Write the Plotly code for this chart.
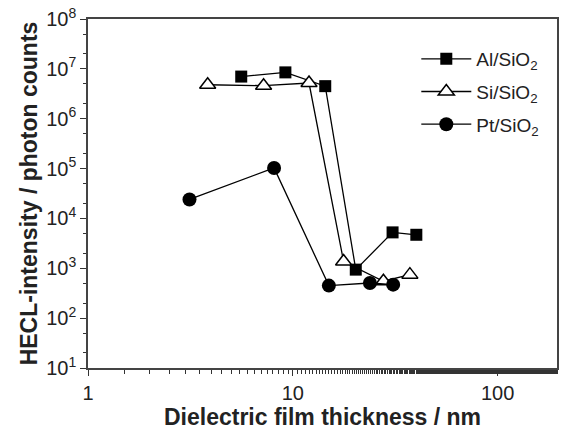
import plotly.graph_objects as go

al_x = [5.6, 9.2, 14.4, 20.3, 30.7, 40.1]
al_y = [7.0e6, 8.5e6, 4.5e6, 940, 5250, 4700]
si_x = [3.84, 7.2, 12.0, 17.7, 27.7, 37.3]
si_y = [4.8e6, 4.6e6, 5.2e6, 1370, 550, 745]
pt_x = [3.13, 8.1, 15.0, 23.8, 30.9]
pt_y = [2.4e4, 1.03e5, 450, 507, 470]

y_tickvals = [1e1, 1e2, 1e3, 1e4, 1e5, 1e6, 1e7, 1e8]
y_ticktext = ["10<sup>%d</sup>" % i for i in range(1, 9)]
x_tickvals = [1, 10, 100]
x_ticktext = ["1", "10", "100"]

FONT = "Liberation Sans, Arial, sans-serif"

fig = go.Figure()
fig.add_trace(go.Scatter(x=al_x, y=al_y, mode="lines+markers", name="Al/SiO<sub>2</sub>",
                         legendgroup="al",
                         line=dict(color="black", width=1.3),
                         marker=dict(symbol="square", size=12, color="black")))
fig.add_trace(go.Scatter(x=si_x, y=si_y, mode="lines+markers", name="Si/SiO<sub>2</sub>",
                         legendgroup="si",
                         line=dict(color="black", width=1.3),
                         marker=dict(symbol="triangle-up", size=14, color="white",
                                     line=dict(color="black", width=1.5))))
fig.add_trace(go.Scatter(x=pt_x, y=pt_y, mode="lines+markers", name="Pt/SiO<sub>2</sub>",
                         legendgroup="pt",
                         line=dict(color="black", width=1.3),
                         marker=dict(symbol="circle", size=14, color="black")))

axis_font = dict(family=FONT, size=20, color="#222")
title_font = dict(family=FONT, size=23, color="#222")
fig.update_layout(
    width=561, height=435,
    margin=dict(l=88, r=2, t=19, b=67),
    paper_bgcolor="white", plot_bgcolor="white",
    font=dict(family=FONT, color="#222"),
    showlegend=True,
    legend=dict(x=0.70, y=0.94, xanchor="left", yanchor="top",
                font=dict(size=19, color="#222"), bgcolor="rgba(0,0,0,0)",
                traceorder="grouped", tracegroupgap=5, itemwidth=50),
    xaxis=dict(type="log", range=[0, 2.29], tickvals=x_tickvals, ticktext=x_ticktext,
               ticks="outside", ticklen=6, tickwidth=1.3, tickcolor="#333",
               showline=True, linecolor="#444", linewidth=1.5, mirror=True,
               showgrid=False, zeroline=False, tickfont=axis_font,
               minor=dict(ticks="outside", ticklen=4, tickcolor="#333", showgrid=False),
               title=dict(text="<b>Dielectric film thickness / nm</b>",
                          font=title_font, standoff=4)),
    yaxis=dict(type="log", range=[1, 8], tickvals=y_tickvals, ticktext=y_ticktext,
               ticks="outside", ticklen=6, tickwidth=1.3, tickcolor="#333",
               showline=True, linecolor="#444", linewidth=1.5, mirror=True,
               showgrid=False, zeroline=False, tickfont=axis_font,
               minor=dict(ticks="outside", ticklen=3, tickcolor="#333", showgrid=False),
               title=dict(text="<b>HECL-intensity / photon counts</b>",
                          font=title_font, standoff=2)),
)
fig.write_html("out.html")
